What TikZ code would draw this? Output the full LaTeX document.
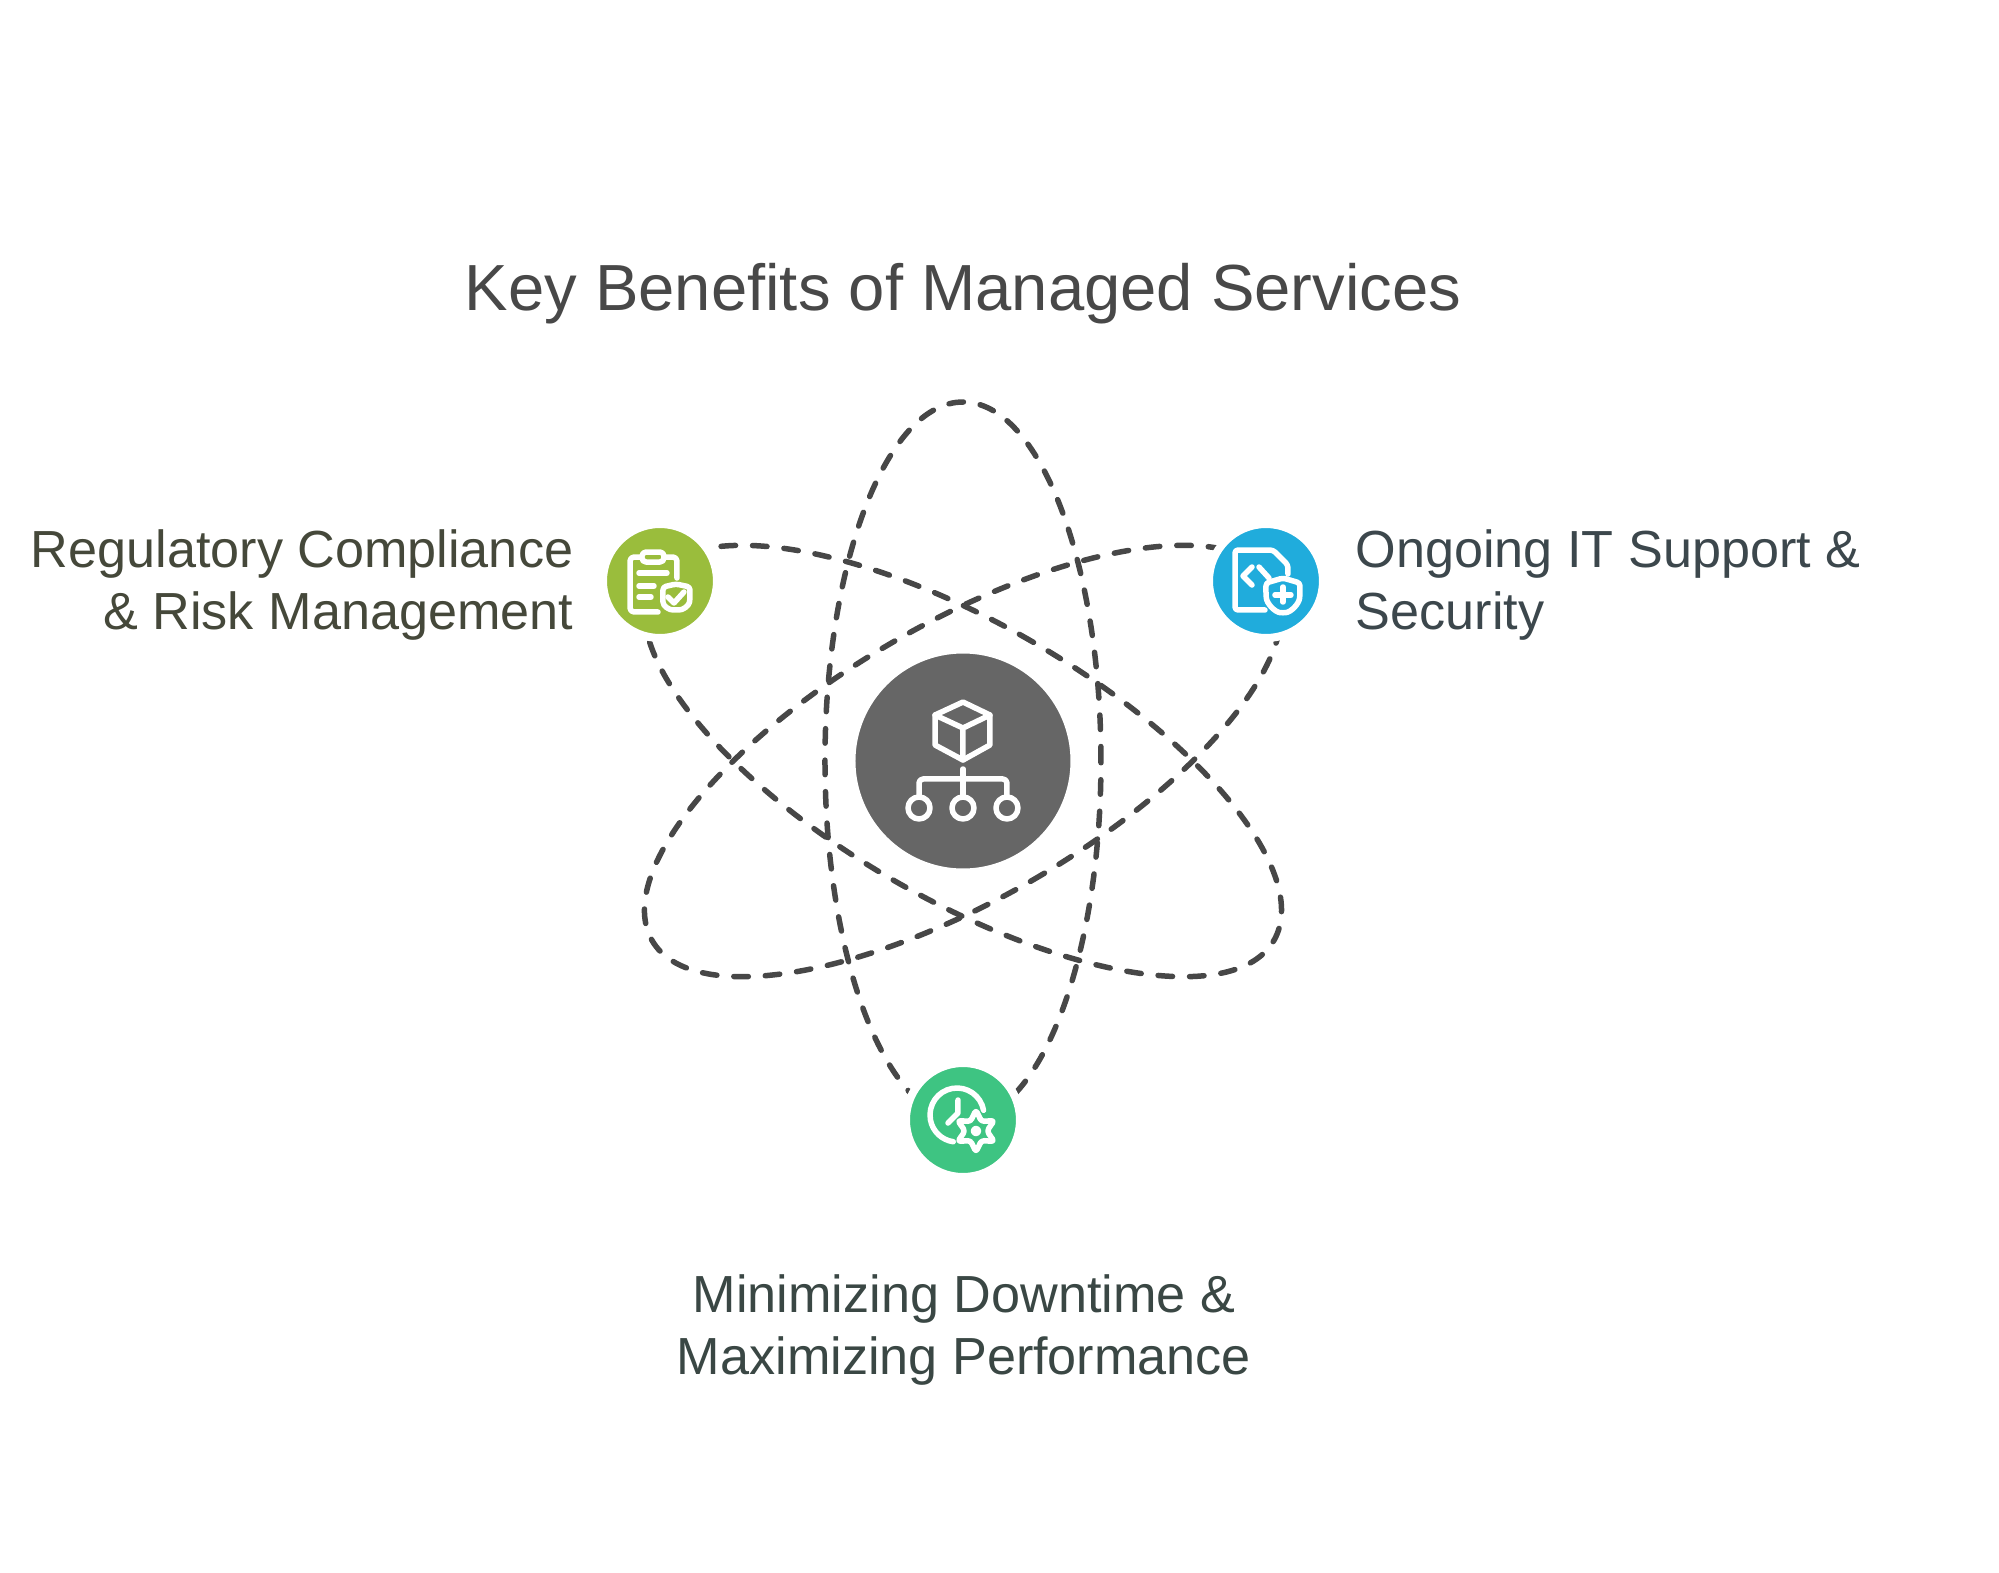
\documentclass[tikz,border=0pt]{standalone}
\usepackage{fontspec}
\setmainfont{Liberation Sans}
\usepackage{xcolor}
\usetikzlibrary{positioning}
\definecolor{hubgray}{HTML}{666666}
\definecolor{leafgreen}{HTML}{9ABD3C}
\definecolor{skyblue}{HTML}{20ACDC}
\definecolor{mintgreen}{HTML}{3EC482}
\definecolor{titlegray}{HTML}{484848}
\definecolor{olivetext}{HTML}{45483A}
\definecolor{slatetext}{HTML}{3C474C}
\definecolor{pinetext}{HTML}{3A4744}
\begin{document}
\begin{tikzpicture}
    [orbit/.style={draw=black!72,line width=0.055cm,line cap=round,dash pattern=on 0.145cm off 0.17cm},
     hub/.style={circle,draw=white,line width=0.07cm,minimum size=2.22cm,inner sep=0pt},
     badge/.style={circle,draw=white,line width=0.08cm,minimum size=1.14cm,inner sep=0pt},
     halo/.style={circle,draw=black!8,line width=0.01cm,fill=white,minimum size=1.17cm,inner sep=0pt},
     glyph/.style={draw=white,line width=0.055cm,line cap=round,line join=round},
     benefit/.style={font=\fontsize{14.85}{17.6}\selectfont,inner sep=0pt}]
    \useasboundingbox (-9.63,-8.11) rectangle (10.36,7.61);

    % orbits
    \draw[orbit] (0,0) ellipse [x radius=1.38,y radius=3.59];
    \draw[orbit,rotate=60] (0,0) ellipse [x radius=1.38,y radius=3.59];
    \draw[orbit,rotate=-60] (0,0) ellipse [x radius=1.38,y radius=3.59];

    % circles
    \node (hubhalo) at (0,0) [halo,minimum size=2.25cm] {};
    \node (hubc) at (0,0) [hub,fill=hubgray] {};
    \node (haloc) at (-3.03,1.80) [halo] {};
    \node (halos) at (3.03,1.80) [halo] {};
    \node (halod) at (0,-3.59) [halo] {};
    \node (compl) at (-3.03,1.80) [badge,fill=leafgreen] {};
    \node (supp) at (3.03,1.80) [badge,fill=skyblue] {};
    \node (down) at (0,-3.59) [badge,fill=mintgreen] {};

    % texts
    \node (title) at (0,4.67) [font=\fontsize{18.55}{22}\selectfont,text=titlegray,inner sep=0pt] {Key Benefits of Managed Services};
    \node (lcompl) at (-3.89,1.76) [benefit,anchor=east,align=right,text=olivetext] {Regulatory Compliance\\\& Risk Management};
    \node (lsupp) at (3.92,1.76) [benefit,anchor=west,align=left,text=slatetext] {Ongoing IT Support \&\\Security};
    \node (ldown) at (0.01,-5.69) [benefit,align=center,text=pinetext] {Minimizing Downtime \&\\Maximizing Performance};

    % hub glyph
    \begin{scope}[x=0.01cm,y=-0.01cm]
    \draw[glyph] (0,-59) -- (27,-46) -- (27,-16) -- (0,-1) -- (-28,-16) -- (-28,-46) -- cycle;
    \draw[glyph] (-28,-46) -- (0,-33) -- (27,-46) (0,-33) -- (0,-1);
    \draw[glyph] (0,8) -- (0,36);
    \draw[glyph,rounded corners=0.04cm] (-44,36) -- (-44,18) -- (44,18) -- (44,36);
    \draw[glyph] (-44,47) circle [radius=11];
    \draw[glyph] (0,47) circle [radius=11];
    \draw[glyph] (44,47) circle [radius=11];
    \end{scope}

    % clipboard glyph
    \begin{scope}[shift={(compl.center)},x=0.01cm,y=-0.01cm]
    \draw[glyph,rounded corners=0.04cm] (-2,31) -- (-30,31) -- (-30,-24) -- (-20,-24);
    \draw[glyph,rounded corners=0.04cm] (5,-24) -- (17,-24) -- (17,-3);
    \draw[glyph,rounded corners=0.04cm] (-18,-29) rectangle (4,-19);
    \draw[glyph] (-21,-8) -- (7,-8) (-21,5) -- (-6,5) (-21,16) -- (-9,16);
    \draw[glyph,rounded corners=0.03cm] (16,3) -- (30,6) -- (30,18) .. controls (29,25) and (23,29) .. (16,29) .. controls (9,29) and (3,25) .. (3,18) -- (3,6) -- cycle;
    \draw[glyph] (8,16) -- (14,22) -- (24,11);
    \end{scope}

    % code file glyph
    \begin{scope}[shift={(supp.center)},x=0.01cm,y=-0.01cm]
    \draw[glyph,rounded corners=0.03cm] (-1,29) -- (-31,29) -- (-31,-31) -- (7,-31) -- (22,-16) -- (22,-7);
    \draw[glyph] (-14,-14) -- (-23,-5) -- (-14,4) (-7,-14) -- (3,-3);
    \draw[glyph,rounded corners=0.03cm] (17,-3) -- (34,2) -- (34,14) .. controls (33,23) and (25,31) .. (17,32) .. controls (9,31) and (1,23) .. (0,14) -- (0,2) -- cycle;
    \draw[glyph] (17,6) -- (17,21) (9,14) -- (25,14);
    \end{scope}

    % clock glyph
    \begin{scope}[shift={(down.center)},x=0.01cm,y=-0.01cm]
    \draw[glyph] (20.6,-9.7) arc [start angle=-10,end angle=-262,radius=27];
    \draw[glyph] (-5,-20) -- (-5,-7) -- (-15,3);
    \draw[glyph,rounded corners=0.03cm] (13,-10) -- (18.5,1.5) -- (31.2,0.5) -- (24,11) -- (31.2,21.5) -- (18.5,20.5) -- (13,32) -- (7.5,20.5) -- (-5.2,21.5) -- (2,11) -- (-5.2,0.5) -- (7.5,1.5) -- cycle;
    \draw[glyph] (13,11) circle [radius=2.5];
    \end{scope}
\end{tikzpicture}
\end{document}
